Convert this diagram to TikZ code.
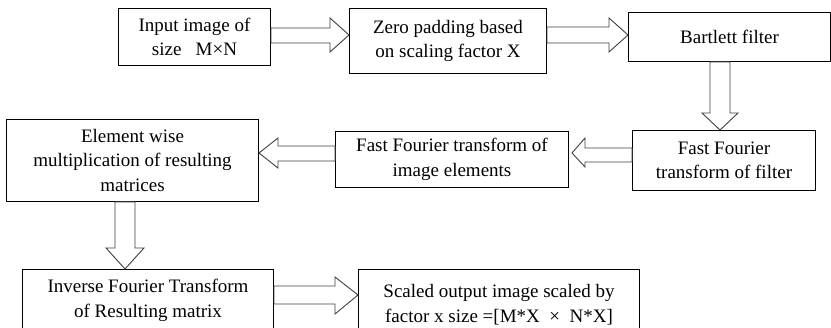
\documentclass[tikz,border=0pt]{standalone}
\usepackage{fontspec}
\setmainfont{Liberation Serif}
\begin{document}
\begin{tikzpicture}[x=1pt,y=-1pt,
  box/.style={draw, line width=1pt, align=center, inner sep=0pt, anchor=north west,
    font=\fontsize{19}{24.5}\selectfont},
  barrow/.style={draw=black!75, line width=0.9pt, fill=white, line join=miter}]
\useasboundingbox (0,0) rectangle (831,328);
% boxes
\node[box, minimum width=152pt, minimum height=57pt] (b1) at (118,8) {Input image of\\size\ \ \ M×N};
\node[box, minimum width=197pt, minimum height=65pt] (b2) at (349,8) {Zero padding based\\on scaling factor X};
\node[box, minimum width=202pt, minimum height=49pt] (b3) at (628,12) {Bartlett filter};
\node[box, minimum width=183pt, minimum height=60pt] (b4) at (632,130) {Fast Fourier\\transform of filter};
\node[box, minimum width=233pt, minimum height=56pt] (b5) at (335,131) {Fast Fourier transform of\\image elements};
\node[box, minimum width=252pt, minimum height=82pt] (b6) at (6,119) {Element wise\\multiplication of resulting\\matrices};
\node[box, minimum width=251pt, minimum height=62pt] (b7) at (22,269) {Inverse Fourier Transform\\of Resulting matrix};
\node[box, minimum width=281pt, minimum height=70pt] (b8) at (358,269) {Scaled output image scaled by\\factor x size =[M*X\ \ ×\ \ N*X]};
% block arrows
\draw[barrow] (b1.east |- 0,28) -- (330,28) -- (330,18) -- (b2.west |- 0,35) -- (330,52) -- (330,43) -- (b1.east |- 0,43) -- cycle;
\draw[barrow] (b2.east |- 0,27) -- (609,27) -- (609,18) -- (b3.west |- 0,35) -- (609,52) -- (609,43) -- (b2.east |- 0,43) -- cycle;
\draw[barrow] (b3.south -| 710,0) -- (710,113) -- (702,113) -- (b4.north -| 720,0) -- (738,113) -- (730,113) -- (b3.south -| 730,0) -- cycle;
\draw[barrow] (b4.west |- 0,148) -- (585,148) -- (585,138) -- (572,153) -- (585,167) -- (585,162) -- (b4.west |- 0,162) -- cycle;
\draw[barrow] (b5.west |- 0,146) -- (278,146) -- (278,138) -- (b6.east |- 0,153) -- (278,168) -- (278,161) -- (b5.west |- 0,161) -- cycle;
\draw[barrow] (b6.south -| 115,0) -- (115,248) -- (106,248) -- (b7.north -| 125,0) -- (144,248) -- (135,248) -- (b6.south -| 135,0) -- cycle;
\draw[barrow] (b7.east |- 0,286) -- (335,286) -- (335,277) -- (b8.west |- 0,295) -- (335,314) -- (335,304) -- (b7.east |- 0,304) -- cycle;
\end{tikzpicture}
\end{document}
